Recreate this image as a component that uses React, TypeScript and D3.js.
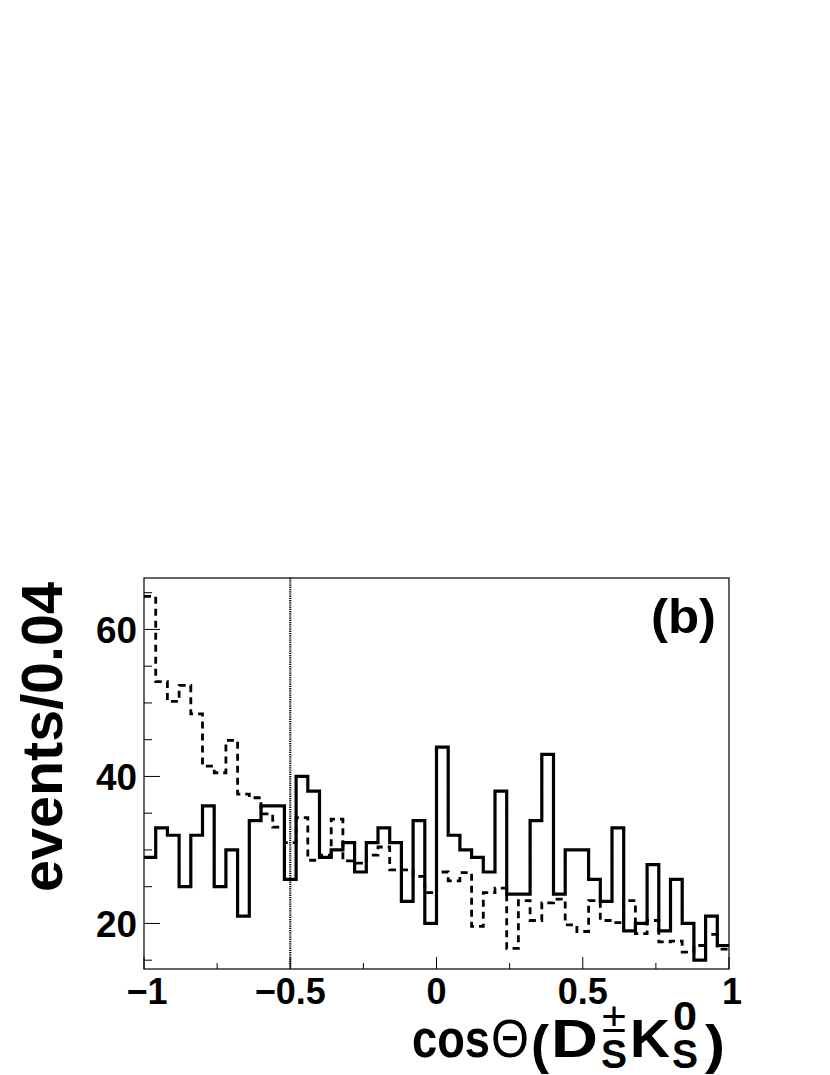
import React from "react";
import * as d3 from "d3";

// 50 bins of width 0.04 on [-1, 1]
const binEdgesStart = -1;
const binWidth = 0.04;
const solidCounts = [29,33,32,25,32,36,25,30,21,34,36,36,26,40,38,29,30,31,27,31,33,31,23,34,20,44,32,30,29,27,38,24,24,34,43,24,30,30,26,23,33,19,20,28,19,26,20,15,21,17];
const dashedCounts = [64.5,52.9,50.2,52.4,48.5,41.4,40.5,44.9,37.6,37.1,34.9,33.1,31.0,34.4,28.6,29.3,34.2,28.5,28.2,29.3,30.4,27.3,27.3,26.4,24.2,27.0,25.8,26.9,19.6,24.2,24.8,16.6,23.1,20.4,22.8,23.3,19.8,18.9,23.1,20.4,20.1,23.1,18.6,20.4,17.5,17.6,16.1,17.0,18.5,16.5];
const xMajorTicks = [-1, -0.5, 0, 0.5, 1];
const xMinorTicks = [-0.75, -0.25, 0.25, 0.75];
const xTickLabels = ["\u22121", "\u22120.5", "0", "0.5", "1"];
const yMajorTicks = [20, 40, 60];
const yMinorTicks = [15, 25, 30, 35, 45, 50, 55, 65];
const yTickLabels = ["20", "40", "60"];
const cutValue = -0.5;
const yTitle = "events/0.04";
const panelLabel = "(b)";

const W = 830, H = 1075;
const L = 144, R = 729, T = 578, B = 969;
const FONT = "'Liberation Sans', Arial, Helvetica, sans-serif";

export default function App() {
  const x = d3.scaleLinear().domain([-1, 1]).range([L, R]);
  const y = d3.scaleLinear().domain([13.8, 67]).range([B, T]);

  const toPts = (vals: number[]) => {
    const pts: [number, number][] = vals.map((v, i) => [binEdgesStart + i * binWidth, v]);
    pts.push([binEdgesStart + vals.length * binWidth, vals[vals.length - 1]]);
    return pts;
  };
  const line = d3
    .line<[number, number]>()
    .x((d) => x(d[0]))
    .y((d) => y(d[1]))
    .curve(d3.curveStepAfter);

  const solidPath = line(toPts(solidCounts)) || "";
  const dashedPath = line(toPts(dashedCounts)) || "";

  return (
    <svg width={W} height={H} style={{ position: "absolute", left: 0, top: 0, background: "#fff" }}>
      <rect x={0} y={0} width={W} height={H} fill="#fff" />
      {/* cut line */}
      <line x1={x(cutValue)} x2={x(cutValue)} y1={T} y2={B} stroke="#000" strokeWidth={2.2} strokeDasharray="1.2 1" />
      {/* histograms */}
      <path d={dashedPath} fill="none" stroke="#000" strokeWidth={2.8} strokeDasharray="7 5" />
      <path d={solidPath} fill="none" stroke="#000" strokeWidth={3.2} />
      {/* frame */}
      <rect x={L} y={T} width={R - L} height={B - T} fill="none" stroke="#000" strokeWidth={1.2} />
      {/* x ticks */}
      {xMajorTicks.map((t) => (
        <line key={"xM" + t} x1={x(t)} x2={x(t)} y1={B} y2={B - 12} stroke="#000" strokeWidth={1} />
      ))}
      {xMinorTicks.map((t) => (
        <line key={"xm" + t} x1={x(t)} x2={x(t)} y1={B} y2={B - 6} stroke="#000" strokeWidth={1} />
      ))}
      {/* y ticks */}
      {yMajorTicks.map((t) => (
        <line key={"yM" + t} x1={L} x2={L + 16} y1={y(t)} y2={y(t)} stroke="#000" strokeWidth={1} />
      ))}
      {yMinorTicks.map((t) => (
        <line key={"ym" + t} x1={L} x2={L + 8} y1={y(t)} y2={y(t)} stroke="#000" strokeWidth={1} />
      ))}
      {/* x tick labels */}
      {xMajorTicks.map((t, i) => (
        <text key={"xl" + t} x={x(t) + (i === 0 ? 3 : i === 4 ? 3 : 0)} y={1004} textAnchor="middle" fontFamily={FONT} fontWeight="bold" fontSize={36}>
          {xTickLabels[i]}
        </text>
      ))}
      {/* y tick labels */}
      {yMajorTicks.map((t, i) => (
        <text key={"yl" + t} x={137} y={y(t) + 14} textAnchor="end" fontFamily={FONT} fontWeight="bold" fontSize={36} textLength={41} lengthAdjust="spacingAndGlyphs">
          {yTickLabels[i]}
        </text>
      ))}
      {/* y title */}
      <text transform="translate(62,737) rotate(-90)" textAnchor="middle" fontFamily={FONT} fontWeight="bold" fontSize={58} textLength={310} lengthAdjust="spacingAndGlyphs">
        {yTitle}
      </text>
      {/* panel label */}
      <text x={651} y={633} fontFamily={FONT} fontWeight="bold" fontSize={48} textLength={65} lengthAdjust="spacingAndGlyphs">
        {panelLabel}
      </text>
      {/* x title: cosΘ(D_S^± K_S^0) */}
      <g fontFamily={FONT} fontWeight="bold">
        <text x={412} y={1057} fontSize={53} textLength={78} lengthAdjust="spacingAndGlyphs">cos</text>
        <text x={491} y={1057} fontSize={54} fontWeight="normal" textLength={38} lengthAdjust="spacingAndGlyphs">{"\u0398"}</text>
        <text x={531} y={1063} fontSize={54} textLength={18} lengthAdjust="spacingAndGlyphs">(</text>
        <text x={551} y={1057} fontSize={53} textLength={47} lengthAdjust="spacingAndGlyphs">D</text>
        <text x={602} y={1032} fontSize={42} fontWeight="normal" textLength={24} lengthAdjust="spacingAndGlyphs">{"\u00b1"}</text>
        <text x={601} y={1068} fontSize={40} textLength={26} lengthAdjust="spacingAndGlyphs">S</text>
        <text x={630} y={1057} fontSize={53} textLength={40} lengthAdjust="spacingAndGlyphs">K</text>
        <text x={673} y={1030} fontSize={40} textLength={24} lengthAdjust="spacingAndGlyphs">0</text>
        <text x={672} y={1068} fontSize={40} textLength={26} lengthAdjust="spacingAndGlyphs">S</text>
        <text x={705} y={1063} fontSize={54} textLength={20} lengthAdjust="spacingAndGlyphs">)</text>
      </g>
    </svg>
  );
}
